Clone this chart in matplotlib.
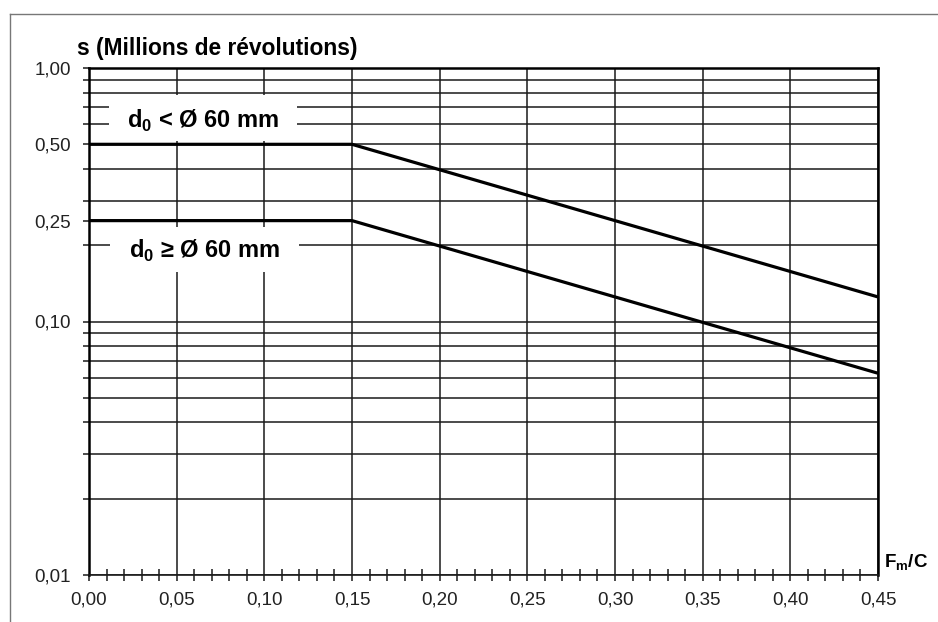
import matplotlib
matplotlib.use("Agg")
import matplotlib.pyplot as plt
import matplotlib.ticker as mticker
from matplotlib.lines import Line2D
from matplotlib.patches import Rectangle

# ---- data ----
load_ratio = [0.00, 0.15, 0.45]          # Fm/C
s_small_bore = [0.50, 0.50, 0.125]      # d0 < Ø 60 mm
s_large_bore = [0.25, 0.25, 0.0625]     # d0 >= Ø 60 mm
y_ticks = [0.01, 0.10, 0.25, 0.50, 1.00]
y_tick_labels = ["0,01", "0,10", "0,25", "0,50", "1,00"]
x_ticks = [0.00, 0.05, 0.10, 0.15, 0.20, 0.25, 0.30, 0.35, 0.40, 0.45]
x_tick_labels = ["0,00", "0,05", "0,10", "0,15", "0,20", "0,25", "0,30", "0,35", "0,40", "0,45"]
label_small = r"d$_\mathregular{0}$ < Ø 60 mm"
label_large = r"d$_\mathregular{0}$ ≥ Ø 60 mm"
y_title = "s (Millions de révolutions)"
x_title = r"F$_\mathregular{m}$/C"

plt.rcParams['font.family'] = ['Liberation Sans', 'DejaVu Sans']

W, H = 938, 622
fig = plt.figure(figsize=(W / 100, H / 100), dpi=100)
ax = fig.add_axes([89 / W, 1 - 575 / H, (878 - 89) / W, (575 - 68) / H])

ax.set_yscale('log')
ax.set_xlim(0, 0.45)
ax.set_ylim(0.01, 1.0)

ax.set_yticks(y_ticks)
ax.set_yticklabels(y_tick_labels)
ax.yaxis.set_minor_locator(mticker.LogLocator(base=10, subs=range(2, 10), numticks=20))
ax.yaxis.set_minor_formatter(mticker.NullFormatter())
ax.set_xticks(x_ticks)
ax.set_xticklabels(x_tick_labels)
ax.xaxis.set_minor_locator(mticker.MultipleLocator(0.01))

gcol = '#1a1a1a'
ax.grid(True, which='major', axis='x', color=gcol, lw=1.1)
ax.grid(True, which='both', axis='y', color=gcol, lw=1.1)
# no gridline at 0.25
for t, v in zip(ax.yaxis.get_major_ticks(), y_ticks):
    if abs(v - 0.25) < 1e-9:
        t.gridline.set_visible(False)

ax.tick_params(axis='y', which='both', direction='out', length=4, width=1.1,
               color=gcol, labelsize=13.5, pad=9, labelcolor='#222222')
ax.tick_params(axis='x', which='major', direction='out', length=4, width=1.1,
               color=gcol, labelsize=13.5, pad=8, labelcolor='#222222')
ax.tick_params(axis='x', which='minor', direction='inout', length=8, width=1.1, color=gcol)

for side in ['left', 'right', 'top']:
    ax.spines[side].set_linewidth(1.8)
    ax.spines[side].set_color('black')
ax.spines['bottom'].set_linewidth(1.2)
ax.spines['bottom'].set_color(gcol)

ax.plot(load_ratio, s_small_bore, color='black', lw=2.3, zorder=3, solid_capstyle='butt')
ax.plot(load_ratio, s_large_bore, color='black', lw=2.3, zorder=3, solid_capstyle='butt')

# white boxes behind the curve labels
ax.add_patch(Rectangle((0.0253, 0.856), 0.2383, 0.0907, transform=ax.transAxes,
                       facecolor='white', edgecolor='none', zorder=2.5))
ax.add_patch(Rectangle((0.0266, 0.5976), 0.2396, 0.0888, transform=ax.transAxes,
                       facecolor='white', edgecolor='none', zorder=2.5))
ax.text(0.1439, 0.895, label_small, transform=ax.transAxes, ha='center', va='center',
        fontsize=17, fontweight='bold', zorder=4)
ax.text(0.147, 0.639, label_large, transform=ax.transAxes, ha='center', va='center',
        fontsize=17, fontweight='bold', zorder=4)

fig.text(77 / W, 1 - 54.5 / H, y_title, ha='left', va='baseline',
         fontsize=16.4, fontweight='bold')
fig.text(884 / W, 1 - 568 / H, x_title, ha='left', va='baseline',
         fontsize=13.5, fontweight='bold')

# outer frame
fcol = '#777777'
fig.add_artist(Line2D([10 / W, 10 / W], [0, 1 - 14 / H], transform=fig.transFigure,
                      color=fcol, lw=1.0))
fig.add_artist(Line2D([10 / W, 1], [1 - 14 / H, 1 - 14 / H], transform=fig.transFigure,
                      color=fcol, lw=1.0))

fig.savefig("out.png", dpi=100)
